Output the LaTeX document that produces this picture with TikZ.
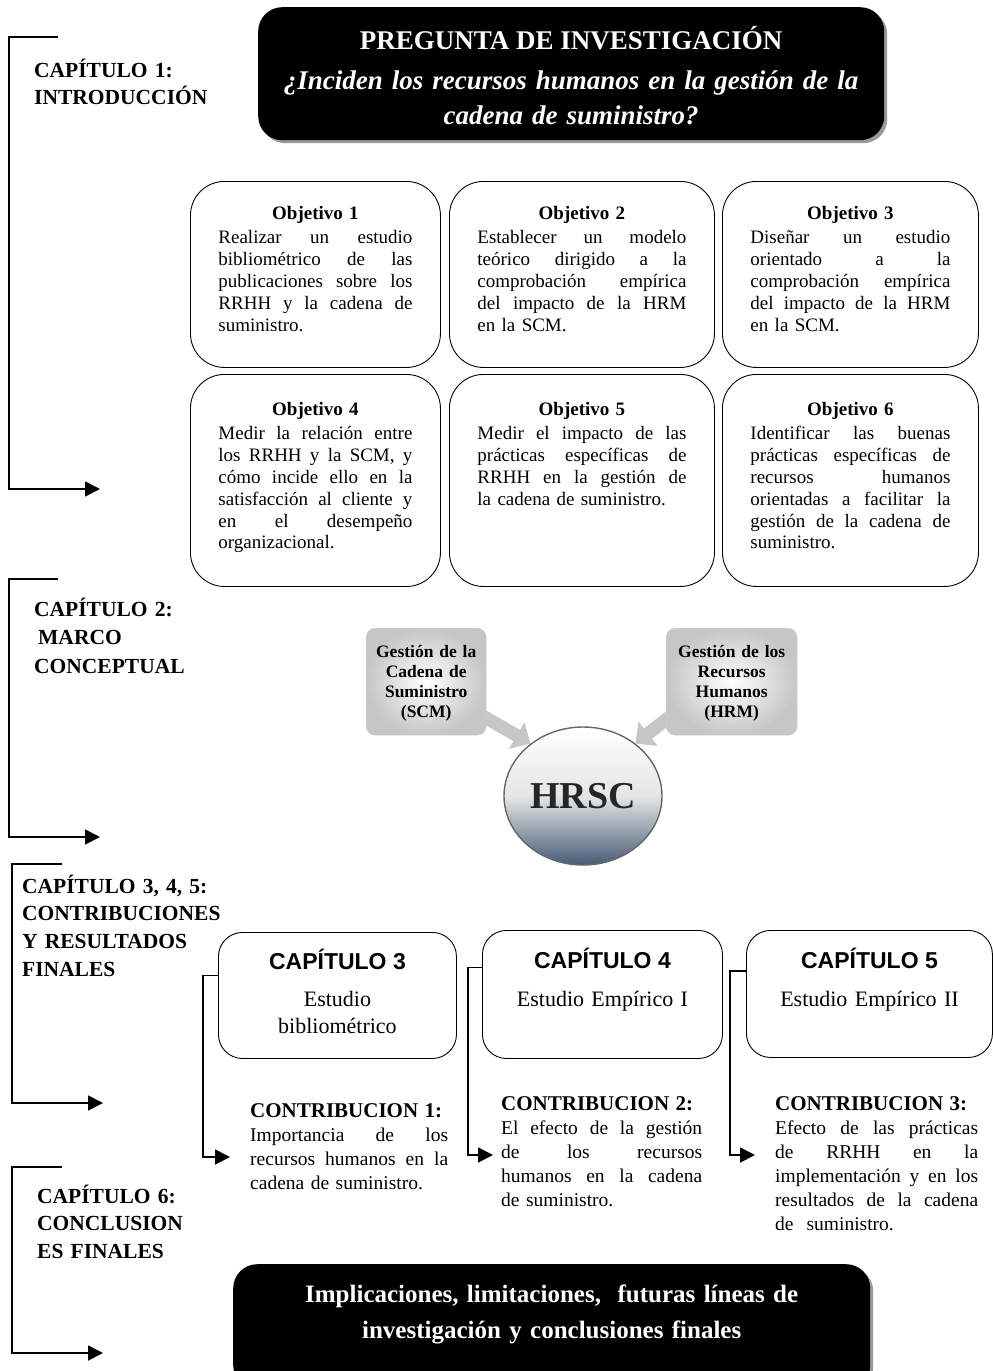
\documentclass[tikz,border=0pt]{standalone}
\usepackage{fontspec}
\setmainfont{Liberation Serif}
\setsansfont{Liberation Sans}
\usetikzlibrary{arrows.meta,shapes.geometric,shadows,calc}
\pgfdeclarelayer{background}
\pgfsetlayers{background,main}
\definecolor{sphbot}{RGB}{72,92,118}
% font size helper, justified full line, centred bold heading
\newcommand\fs[2]{\fontsize{#1}{#2}\selectfont}
\newcommand\jl[1]{\makebox[\linewidth][s]{\spaceskip=0.25em plus 1fil\relax #1}\\}
\newcommand\head[1]{\makebox[\linewidth]{\bfseries #1}\\[3pt]}

\begin{document}
\begin{tikzpicture}[x=1pt,y=-1pt,
  goal/.style={draw, line width=0.9pt, rounded corners=34pt, anchor=north west, inner sep=0pt},
  goaltext/.style={anchor=base, inner sep=0pt, align=left, font=\fs{19}{21.8}},
  chapbox/.style={draw, line width=0.9pt, rounded corners=24pt, anchor=north west, inner sep=0pt},
  chaptitle/.style={anchor=base, inner sep=0pt, font=\sffamily\bfseries\fs{23}{27}},
  chapsub/.style={anchor=base, inner sep=0pt, text width=220pt, align=center, font=\fs{22}{27}},
  contrib/.style={anchor=base west, inner sep=0pt, align=left, font=\fs{19.5}{24}},
  blackbox/.style={fill=black, rounded corners=24pt, anchor=north west, inner sep=0pt,
    drop shadow={shadow xshift=3pt, shadow yshift=-3pt, fill=black!40, opacity=1}},
  chaplabel/.style={anchor=base west, inner sep=0pt, align=left, text width=230pt},
  callout/.style={anchor=north west, inner sep=0pt, rounded corners=9pt,
    inner color=white, outer color=gray!45, draw=gray!35},
  callouttext/.style={anchor=base, inner sep=0pt, text width=126pt, align=center, font=\bfseries\fs{17.5}{20}},
  blockarrow/.style={line width=13pt, draw=gray!45, -{Triangle[length=16pt,width=30pt]}},
  bracket/.style={line width=1.8pt, -{Triangle[length=15pt,width=15pt]}},
  flow/.style={line width=1.8pt, -{Triangle[length=15pt,width=15pt]}}
]
\useasboundingbox (0,0) rectangle (993,1371);
\clip (0,0) rectangle (993,1371);

% ---------- research question ----------
\node[blackbox, minimum width=626pt, minimum height=133pt] (question) at (258,7) {};
\node[anchor=base, inner sep=0pt, text=white, font=\bfseries\fs{27}{30}] (qtitle)
  at ($(question.north)+(0,42)$) {PREGUNTA DE INVESTIGACIÓN};
\node[anchor=base, inner sep=0pt, text width=610pt, align=center, text=white,
  font=\bfseries\itshape\fs{27}{35}] (qtext) at ($(question.north)+(0,82)$)
  {¿Inciden los recursos humanos en la gestión de la\\cadena de suministro?};

% ---------- objectives ----------
\node[goal, minimum width=250pt, minimum height=186pt] (obj1) at (190,181) {};
\node[goal, minimum width=265pt, minimum height=186pt] (obj2) at (449,181) {};
\node[goal, minimum width=256pt, minimum height=186pt] (obj3) at (722,181) {};
\node[goal, minimum width=250pt, minimum height=212pt] (obj4) at (190,374) {};
\node[goal, minimum width=265pt, minimum height=212pt] (obj5) at (449,374) {};
\node[goal, minimum width=256pt, minimum height=212pt] (obj6) at (722,374) {};

\node[goaltext, text width=194pt] (obj1t) at ($(obj1.north)+(0,38)$)
  {\head{Objetivo 1}\jl{Realizar un estudio}\jl{bibliométrico de las}\jl{publicaciones sobre los}\jl{RRHH y la cadena de}suministro.};
\node[goaltext, text width=209pt] (obj2t) at ($(obj2.north)+(0,38)$)
  {\head{Objetivo 2}\jl{Establecer un modelo}\jl{teórico dirigido a la}\jl{comprobación empírica}\jl{del impacto de la HRM}en la SCM.};
\node[goaltext, text width=200pt] (obj3t) at ($(obj3.north)+(0,38)$)
  {\head{Objetivo 3}\jl{Diseñar un estudio}\jl{orientado a la}\jl{comprobación empírica}\jl{del impacto de la HRM}en la SCM.};
\node[goaltext, text width=194pt] (obj4t) at ($(obj4.north)+(0,41)$)
  {\head{Objetivo 4}\jl{Medir la relación entre}\jl{los RRHH y la SCM, y}\jl{cómo incide ello en la}\jl{satisfacción al cliente y}\jl{en el desempeño}organizacional.};
\node[goaltext, text width=209pt] (obj5t) at ($(obj5.north)+(0,41)$)
  {\head{Objetivo 5}\jl{Medir el impacto de las}\jl{prácticas específicas de}\jl{RRHH en la gestión de}la cadena de suministro.};
\node[goaltext, text width=200pt] (obj6t) at ($(obj6.north)+(0,41)$)
  {\head{Objetivo 6}\jl{Identificar las buenas}\jl{prácticas específicas de}\jl{recursos humanos}\jl{orientadas a facilitar la}\jl{gestión de la cadena de}suministro.};

% ---------- conceptual framework ----------
\node[callout, minimum width=120pt, minimum height=107pt] (scm) at (366,628) {};
\node[callout, minimum width=131pt, minimum height=107pt] (hrm) at (666,628) {};
\node[callouttext] (scmt) at ($(scm.north)+(0,29)$) {Gestión de la\\Cadena de\\Suministro\\(SCM)};
\node[callouttext] (hrmt) at ($(hrm.north)+(0,29)$) {Gestión de los\\Recursos\\Humanos\\(HRM)};
\node[ellipse, minimum width=158pt, minimum height=138pt, inner sep=0pt,
  top color=white, bottom color=sphbot, middle color=black!10,
  draw=black!60, line width=1.4pt, font=\bfseries\fs{38}{40}, text=black!85] (hrsc) at (583,796) {HRSC};
\begin{pgfonlayer}{background}
  \draw[blockarrow] ([xshift=-8pt,yshift=22pt]scm.south east) -- (hrsc.135);
  \draw[blockarrow] ([xshift=8pt,yshift=22pt]hrm.south west) -- (hrsc.45);
\end{pgfonlayer}

% ---------- chapters 3, 4, 5 ----------
\node[chapbox, minimum width=238pt, minimum height=126pt] (ch3) at (218,932) {};
\node[chapbox, minimum width=240pt, minimum height=128pt] (ch4) at (482,930) {};
\node[chapbox, minimum width=246pt, minimum height=127pt] (ch5) at (746,930) {};
\node[chaptitle] (ch3t) at ($(ch3.north)+(0,37)$) {CAPÍTULO 3};
\node[chaptitle] (ch4t) at ($(ch4.north)+(0,38)$) {CAPÍTULO 4};
\node[chaptitle] (ch5t) at ($(ch5.north)+(0,38)$) {CAPÍTULO 5};
\node[chapsub] (ch3s) at ($(ch3.north)+(0,74)$) {Estudio\\bibliométrico};
\node[chapsub] (ch4s) at ($(ch4.north)+(0,76)$) {Estudio Empírico I};
\node[chapsub] (ch5s) at ($(ch5.north)+(0,76)$) {Estudio Empírico II};

\node[contrib, text width=198pt] (con1) at (250,1117)
  {{\bfseries\fs{21}{24}CONTRIBUCION 1:}\\\jl{Importancia de los}\jl{recursos humanos en la}cadena de suministro.};
\node[contrib, text width=201pt] (con2) at (501,1110)
  {{\bfseries\fs{21}{24}CONTRIBUCION 2:}\\\jl{El efecto de la gestión}\jl{de los recursos}\jl{humanos en la cadena}de suministro.};
\node[contrib, text width=203pt] (con3) at (775,1110)
  {{\bfseries\fs{21}{24}CONTRIBUCION 3:}\\\jl{Efecto de las prácticas}\jl{de RRHH en la}\jl{implementación y en los}\jl{resultados de la cadena}de \ suministro.};

\coordinate (con1in) at (230,1157);
\coordinate (con2in) at (493,1155);
\coordinate (con3in) at (755,1155);
\draw[flow] ([yshift=20pt]ch3.west) -- ++(-15,0) |- (con1in);
\draw[flow] ([yshift=27pt]ch4.west) -- ++(-14,0) |- (con2in);
\draw[flow] ([yshift=23pt]ch5.west) -- ++(-16,0) |- (con3in);

% ---------- conclusions ----------
\node[blackbox, minimum width=637pt, minimum height=125pt] (closing) at (233,1264) {};
\node[anchor=base, inner sep=0pt, text width=620pt, align=center, text=white,
  font=\bfseries\fs{25}{36}] (closingt) at ($(closing.north)+(0,38)$)
  {Implicaciones, limitaciones, \ futuras líneas de\\investigación y conclusiones finales};

% ---------- chapter labels and brackets ----------
\node[chaplabel, font=\bfseries\fs{21.5}{27}] (lab1) at (34,77) {CAPÍTULO 1:\\INTRODUCCIÓN};
\node[chaplabel, font=\bfseries\fs{21.5}{28.5}] (lab2) at (34,616) {CAPÍTULO 2:\\\hspace*{4pt}MARCO\\CONCEPTUAL};
\node[chaplabel, font=\bfseries\fs{21.5}{27.7}] (lab3) at (22,893) {CAPÍTULO 3, 4, 5:\\CONTRIBUCIONES\\Y RESULTADOS\\FINALES};
\node[chaplabel, font=\bfseries\fs{21.5}{27.5}] (lab6) at (37,1203) {CAPÍTULO 6:\\CONCLUSION\\ES FINALES};

\coordinate (b1s) at (58,37);   \coordinate (b1e) at (100,489);
\coordinate (b2s) at (58,579);  \coordinate (b2e) at (100,837);
\coordinate (b3s) at (62,864);  \coordinate (b3e) at (103,1103);
\coordinate (b6s) at (62,1167); \coordinate (b6e) at (103,1353);
\draw[bracket] (b1s) -- ++(-49,0) |- (b1e);
\draw[bracket] (b2s) -- ++(-49,0) |- (b2e);
\draw[bracket] (b3s) -- ++(-50,0) |- (b3e);
\draw[bracket] (b6s) -- ++(-50,0) |- (b6e);
\end{tikzpicture}
\end{document}
